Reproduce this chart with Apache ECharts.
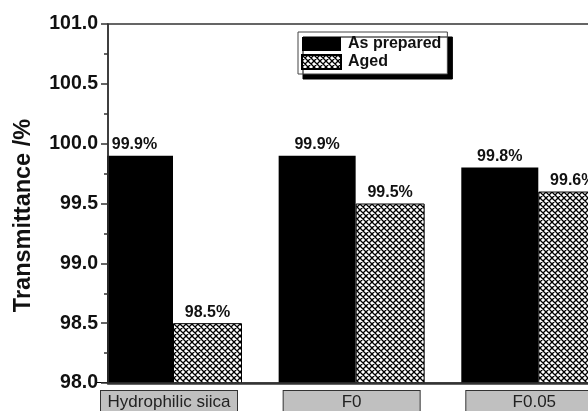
<!DOCTYPE html>
<html>
<head>
<meta charset="utf-8">
<script src="https://cdn.jsdelivr.net/npm/echarts@6/dist/echarts.min.js"></script>
<style>
  html, body { margin: 0; padding: 0; background: #fff; }
  #chart { width: 588px; height: 411px; }
</style>
</head>
<body>
<div id="chart"></div>
<script>
// Transmittance of coatings, as prepared vs. aged
const categories = ['Hydrophilic siica', 'F0', 'F0.05'];
const seriesNames = ['As prepared', 'Aged'];
const asPrepared = [99.9, 99.9, 99.8];
const aged = [98.5, 99.5, 99.6];
const yTicks = [98.0, 98.5, 99.0, 99.5, 100.0, 100.5, 101.0];

// Cross-hatch fill used for the aged bars
function hatchPattern() {
  const c = document.createElement('canvas');
  const s = 6;
  c.width = s; c.height = s;
  const g = c.getContext('2d');
  g.fillStyle = '#fff';
  g.fillRect(0, 0, s, s);
  g.strokeStyle = '#000';
  g.lineWidth = 1.3;
  g.beginPath();
  for (let k = -1; k <= 1; k++) {
    g.moveTo(k * s, 0); g.lineTo(k * s + s, s);
    g.moveTo(k * s + s, 0); g.lineTo(k * s, s);
  }
  g.stroke();
  return c;
}

const chart = echarts.init(document.getElementById('chart'), null, { renderer: 'canvas' });

// Category positions on a numeric x scale (one unit per category)
const unitPx = 182.65;
const gridLeft = 108, gridTop = 24, gridBottom = 28, gridWidth = 520;
const xMin = -(169 - gridLeft) / unitPx;
const xMax = xMin + gridWidth / unitPx;
const H = 411;

const font = 'Arial, "Liberation Sans", Helvetica, sans-serif';

chart.setOption({
  animation: false,
  backgroundColor: '#fff',
  grid: {
    left: gridLeft, top: gridTop, width: gridWidth, bottom: gridBottom,
    outerBoundsMode: 'none', containLabel: false,
    show: true, borderColor: '#333', borderWidth: 1.5, backgroundColor: 'transparent'
  },
  // bars are cut off at the left axis: white panel left of the plot area,
  // drawn above the bars and below the y axis
  graphic: [{
    type: 'rect', z: 5, silent: true,
    shape: { x: 0, y: gridTop, width: gridLeft - 1, height: H - gridTop - gridBottom - 1 },
    style: { fill: '#fff' }
  }],
  legend: {
    data: seriesNames,
    orient: 'vertical',
    left: 298, top: 32,
    padding: [4, 6, 4, 3],
    itemWidth: 39, itemHeight: 14, itemGap: 2,
    icon: 'rect',
    backgroundColor: '#fff',
    borderColor: '#444', borderWidth: 1,
    shadowColor: '#000', shadowBlur: 0, shadowOffsetX: 5, shadowOffsetY: 5,
    textStyle: { fontFamily: font, fontWeight: 'bold', fontSize: 16, color: '#111', padding: [0, 0, 0, 2] }
  },
  xAxis: {
    type: 'value',
    min: xMin, max: xMax,
    z: 10,
    splitLine: { show: false },
    axisLine: { show: true, onZero: false, lineStyle: { color: '#333', width: 2.5 } },
    axisTick: { show: false },
    axisLabel: {
      customValues: [0, 1, 2],
      formatter: v => categories[Math.round(v)] || '',
      fontFamily: font, fontSize: 17, color: '#222',
      backgroundColor: '#c0c0c0', borderColor: '#333', borderWidth: 1,
      width: 136, align: 'center', padding: [3, 0, 8, 0], margin: 8
    }
  },
  yAxis: {
    type: 'value',
    min: 98, max: 101, interval: 0.5,
    z: 10,
    name: 'Transmittance /%',
    nameLocation: 'middle', nameGap: 72,
    nameTextStyle: { fontFamily: font, fontWeight: 'bold', fontSize: 23.5, color: '#111', padding: [0, 24, 0, 0] },
    splitLine: { show: false },
    axisLine: { show: true, onZero: false, lineStyle: { color: '#333', width: 1.5 } },
    axisTick: { show: true, length: 7, lineStyle: { color: '#333', width: 1.5 } },
    minorTick: { show: true, splitNumber: 2, length: 4, lineStyle: { color: '#333', width: 1.5 } },
    axisLabel: {
      customValues: yTicks,
      formatter: v => v.toFixed(1),
      fontFamily: font, fontWeight: 'bold', fontSize: 19.5, color: '#111', margin: 10
    }
  },
  series: [
    {
      name: seriesNames[0], type: 'bar', clip: true,
      data: asPrepared.map((v, i) => [i, v]),
      barWidth: 77, barGap: 0,
      itemStyle: { color: '#000' },
      label: {
        show: true, position: 'top', distance: 3,
        formatter: p => p.value[1].toFixed(1) + '%',
        fontFamily: font, fontWeight: 'bold', fontSize: 16, color: '#111'
      }
    },
    {
      name: seriesNames[1], type: 'bar', clip: true,
      data: aged.map((v, i) => [i, v]),
      barWidth: 69, barGap: 0,
      itemStyle: { color: { image: hatchPattern(), repeat: 'repeat' }, borderColor: '#000', borderWidth: 1 },
      label: {
        show: true, position: 'top', distance: 3,
        formatter: p => p.value[1].toFixed(1) + '%',
        fontFamily: font, fontWeight: 'bold', fontSize: 16, color: '#111'
      }
    }
  ]
});
</script>
</body>
</html>
